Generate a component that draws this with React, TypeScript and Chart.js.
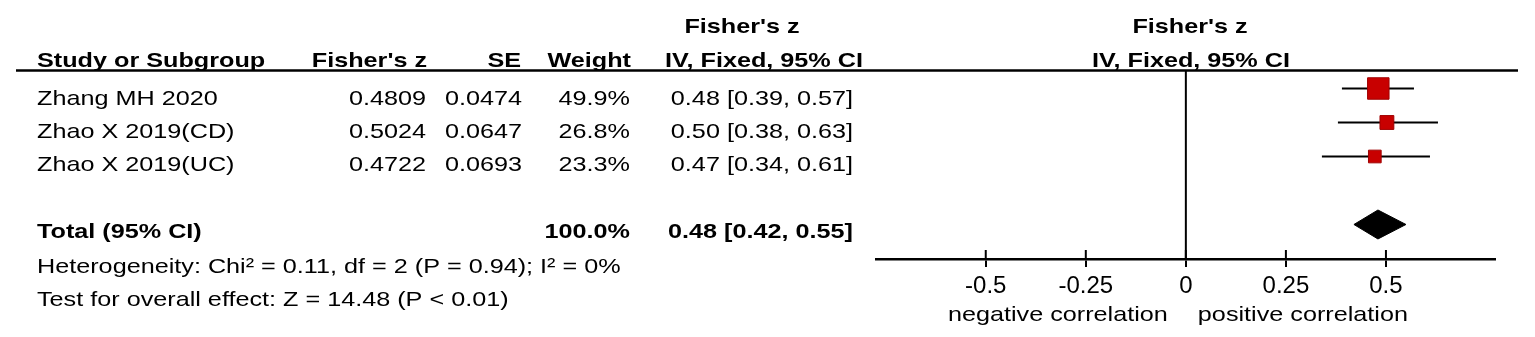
import React, { useEffect, useRef } from "react";
import { Chart, registerables } from "chart.js";

Chart.register(...registerables);

// ---------- data ----------
const STUDIES = ["Zhang MH 2020", "Zhao X 2019(CD)", "Zhao X 2019(UC)"];
const FISHER_Z = [0.4809, 0.5024, 0.4722];
const FISHER_Z_LABELS = ["0.4809", "0.5024", "0.4722"];
const SE_LABELS = ["0.0474", "0.0647", "0.0693"];
const WEIGHTS = [49.9, 26.8, 23.3];
const WEIGHT_LABELS = ["49.9%", "26.8%", "23.3%"];
const CI_LO = [0.39, 0.38, 0.34];
const CI_HI = [0.57, 0.63, 0.61];
const CI_LABELS = ["0.48 [0.39, 0.57]", "0.50 [0.38, 0.63]", "0.47 [0.34, 0.61]"];

const TOTAL_LABEL = "Total (95% CI)";
const TOTAL_WEIGHT = "100.0%";
const TOTAL_EST = 0.48;
const TOTAL_LO = 0.42;
const TOTAL_HI = 0.55;
const TOTAL_CI_LABEL = "0.48 [0.42, 0.55]";

const HETEROGENEITY = "Heterogeneity: Chi\u00B2 = 0.11, df = 2 (P = 0.94); I\u00B2 = 0%";
const OVERALL_EFFECT = "Test for overall effect: Z = 14.48 (P < 0.01)";

const HEAD_STUDY = "Study or Subgroup";
const HEAD_Z = "Fisher's z";
const HEAD_SE = "SE";
const HEAD_WEIGHT = "Weight";
const HEAD_METHOD = "IV, Fixed, 95% CI";

const TICK_VALUES = [-0.5, -0.25, 0, 0.25, 0.5];
const TICK_LABELS = ["-0.5", "-0.25", "0", "0.25", "0.5"];
const AXIS_MIN = -0.7725;
const AXIS_MAX = 0.7725;
const LEFT_LABEL = "negative correlation";
const RIGHT_LABEL = "positive correlation";

// ---------- layout / style ----------
const W = 1535;
const H = 337;
const FONT = '"Liberation Sans", Arial, Helvetica, sans-serif';
const SX = 1.2; // horizontal stretch of table text
const TEXT_SIZE = 21;
const DIAMOND_HALF = 0.426; // in row units

function drawText(
  ctx: CanvasRenderingContext2D,
  s: string,
  x: number,
  y: number,
  align: CanvasTextAlign,
  bold = false,
  size = TEXT_SIZE
) {
  ctx.save();
  ctx.font = `${bold ? "bold " : ""}${size}px ${FONT}`;
  ctx.fillStyle = "#000";
  ctx.textAlign = align;
  ctx.textBaseline = "alphabetic";
  ctx.translate(x, y);
  ctx.scale(SX, 1);
  ctx.fillText(s, 0, 0);
  ctx.restore();
}

const forestPlugin = {
  id: "forestDecor",
  beforeDatasetsDraw(chart: any) {
    const ctx: CanvasRenderingContext2D = chart.ctx;
    const xs = chart.scales.x;
    const area = chart.chartArea;
    const x0 = xs.getPixelForValue(0);
    ctx.save();
    ctx.strokeStyle = "#000";
    ctx.lineWidth = 2;
    ctx.beginPath();
    ctx.moveTo(x0, area.top);
    ctx.lineTo(x0, area.bottom);
    ctx.stroke();
    ctx.restore();
  },
  afterDraw(chart: any) {
    const ctx: CanvasRenderingContext2D = chart.ctx;
    const xs = chart.scales.x;
    const area = chart.chartArea;

    // header rule
    ctx.save();
    ctx.strokeStyle = "#000";
    ctx.lineWidth = 2.5;
    ctx.beginPath();
    ctx.moveTo(16, 70.5);
    ctx.lineTo(1518, 70.5);
    ctx.stroke();

    // upper half of tick marks
    ctx.lineWidth = 2;
    TICK_VALUES.forEach((v) => {
      const px = xs.getPixelForValue(v);
      ctx.beginPath();
      ctx.moveTo(px, area.bottom - 9);
      ctx.lineTo(px, area.bottom);
      ctx.stroke();
    });
    ctx.restore();

    // column headers
    drawText(ctx, HEAD_Z, 742, 33, "center", true);
    drawText(ctx, HEAD_Z, 1190, 33, "center", true);
    drawText(ctx, HEAD_STUDY, 37, 67, "left", true);
    drawText(ctx, HEAD_Z, 427, 67, "right", true);
    drawText(ctx, HEAD_SE, 521, 67, "right", true);
    drawText(ctx, HEAD_WEIGHT, 631, 67, "right", true);
    drawText(ctx, HEAD_METHOD, 764, 67, "center", true);
    drawText(ctx, HEAD_METHOD, 1191, 67, "center", true);

    // study rows
    const rowBase = [105, 138, 171];
    STUDIES.forEach((s, i) => {
      const y = rowBase[i];
      drawText(ctx, s, 37, y, "left");
      drawText(ctx, FISHER_Z_LABELS[i], 426, y, "right");
      drawText(ctx, SE_LABELS[i], 522, y, "right");
      drawText(ctx, WEIGHT_LABELS[i], 630, y, "right");
      drawText(ctx, CI_LABELS[i], 853, y, "right");
    });

    // total row
    drawText(ctx, TOTAL_LABEL, 37, 238, "left", true);
    drawText(ctx, TOTAL_WEIGHT, 630, 238, "right", true);
    drawText(ctx, TOTAL_CI_LABEL, 853, 238, "right", true);

    drawText(ctx, HETEROGENEITY, 37, 273, "left");
    drawText(ctx, OVERALL_EFFECT, 37, 306, "left");

    // direction labels
    const x0 = xs.getPixelForValue(0);
    drawText(ctx, LEFT_LABEL, x0 - 18, 321, "right");
    drawText(ctx, RIGHT_LABEL, x0 + 12, 321, "left");
  },
};

export default function App() {
  const ref = useRef<HTMLCanvasElement | null>(null);

  useEffect(() => {
    if (!ref.current) return;
    const totalRow = STUDIES.length + 1;

    const whiskers = STUDIES.map((_, i) => ({
      type: "line" as const,
      data: [
        { x: CI_LO[i], y: i },
        { x: CI_HI[i], y: i },
      ],
      showLine: true,
      borderColor: "#000",
      borderWidth: 2,
      pointRadius: 0,
      fill: false,
      order: 2,
    }));

    const chart = new Chart(ref.current, {
      type: "scatter",
      data: {
        datasets: [
          {
            type: "scatter",
            data: FISHER_Z.map((v, i) => ({ x: v, y: i })),
            pointStyle: "rect",
            pointRadius: (c: any) => (5 + 0.33 * WEIGHTS[c.dataIndex]) / Math.SQRT2,
            backgroundColor: "#c80000",
            borderColor: "#a00000",
            borderWidth: 1,
            order: 0,
          } as any,
          ...whiskers,
          {
            type: "line",
            data: [
              { x: TOTAL_LO, y: totalRow },
              { x: TOTAL_EST, y: totalRow - DIAMOND_HALF },
              { x: TOTAL_HI, y: totalRow },
              { x: TOTAL_EST, y: totalRow + DIAMOND_HALF },
              { x: TOTAL_LO, y: totalRow },
            ],
            showLine: true,
            fill: "shape",
            tension: 0,
            backgroundColor: "#000",
            borderColor: "#000",
            borderWidth: 1,
            pointRadius: 0,
            order: 1,
          } as any,
        ],
      },
      options: {
        animation: false,
        responsive: false,
        devicePixelRatio: 1,
        events: [],
        layout: { padding: { top: 70, left: 876.7, right: 40, bottom: 0 } },
        plugins: {
          legend: { display: false },
          tooltip: { enabled: false },
        },
        scales: {
          x: {
            type: "linear",
            position: "bottom",
            min: AXIS_MIN,
            max: AXIS_MAX,
            afterBuildTicks: (s: any) => {
              s.ticks = TICK_VALUES.map((v) => ({ value: v }));
            },
            afterFit: (s: any) => {
              s.height = 78;
            },
            grid: {
              drawOnChartArea: false,
              drawTicks: true,
              tickLength: 8,
              color: "#000",
              lineWidth: 2,
            },
            border: { display: true, color: "#000", width: 2.5 },
            ticks: {
              autoSkip: false,
              maxRotation: 0,
              padding: 5,
              color: "#000",
              font: { family: FONT, size: 24 },
              callback: (v: any) => {
                const idx = TICK_VALUES.indexOf(Number(v));
                return idx >= 0 ? TICK_LABELS[idx] : "";
              },
            },
          },
          y: {
            type: "linear",
            display: false,
            min: -0.544,
            max: 5.015,
            reverse: true,
          },
        },
      },
      plugins: [forestPlugin],
    } as any);

    return () => chart.destroy();
  }, []);

  return (
    <div style={{ position: "absolute", left: 0, top: 0, width: W, height: H, background: "#fff" }}>
      <canvas ref={ref} width={W} height={H} style={{ display: "block" }} />
    </div>
  );
}
